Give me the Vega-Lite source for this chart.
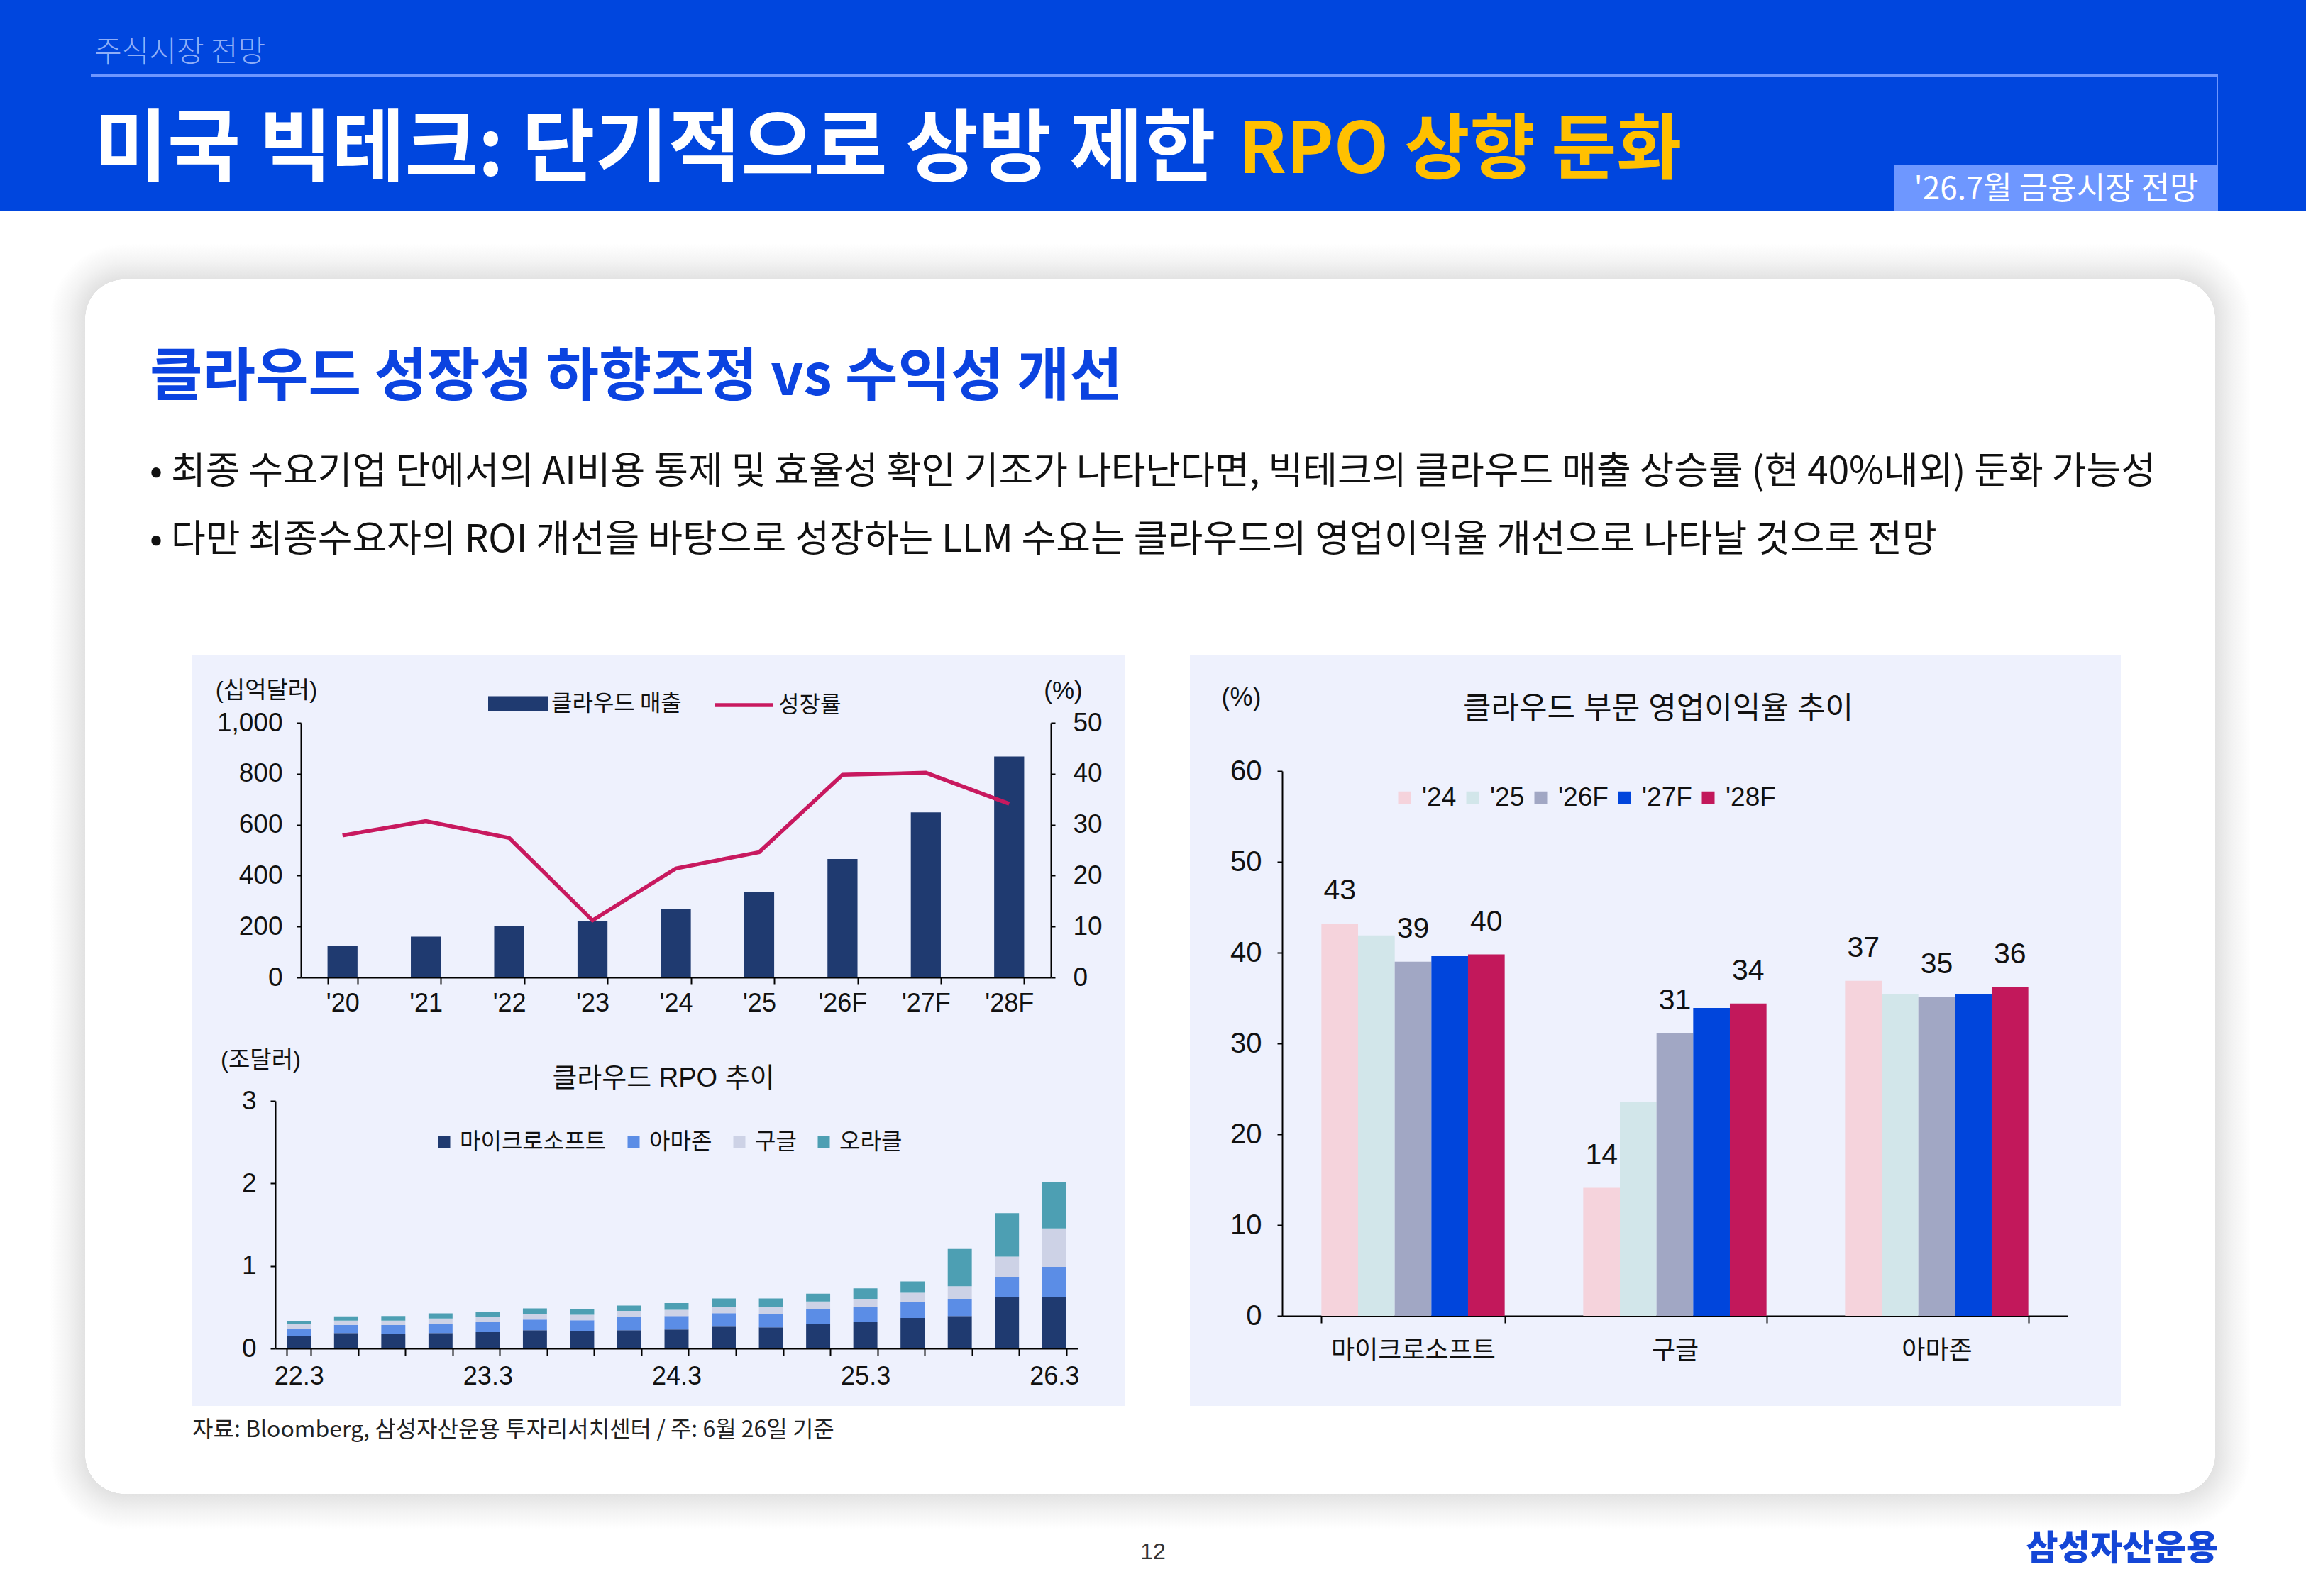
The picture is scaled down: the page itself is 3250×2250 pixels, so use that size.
{
  "$schema": "https://vega.github.io/schema/vega-lite/v6.json",
  "padding": 0,
  "background": "#ffffff",
  "spacing": 0,
  "resolve": {"scale": {"color": "independent", "stroke": "independent"}, "legend": {"color": "independent", "stroke": "independent"}},
  "config": {
    "view": {"stroke": null},
    "concat": {"spacing": 0},
    "axis": {"domainColor": "#000000", "domainWidth": 2, "tickColor": "#000000", "tickWidth": 2, "grid": false, "labelColor": "#111111", "labelFont": "Liberation Sans Narrow, Arial Narrow, Liberation Sans, Noto Sans CJK KR", "titleFont": "Liberation Sans Narrow, Arial Narrow, Liberation Sans, Noto Sans CJK KR", "titleFontWeight": "normal", "titleColor": "#111111", "labelFontSize": 37, "titleFontSize": 33, "labelOverlap": false, "labelLimit": 600},
    "legend": {"labelFont": "Liberation Sans Narrow, Arial Narrow, Liberation Sans, Noto Sans CJK KR", "labelColor": "#111111", "padding": 0, "offset": 0, "labelLimit": 600, "gridAlign": "each"},
    "title": {"font": "Noto Sans CJK KR", "fontWeight": "normal"}
  },
  "vconcat": [
    {"width": 3250, "height": 104, "data": {"values": []}, "mark": "rect", "encoding": {},
     "view": {"fill": "#0046DE", "stroke": null},
     "title": {"text": "주식시장 전망", "anchor": "start", "frame": "group", "orient": "top", "offset": -96.2, "dx": 133, "font": "Noto Sans CJK KR", "fontSize": 42, "fontWeight": 300, "color": "#8FAEF8"}},
    {"hconcat": [
      {"width": 128, "height": 4, "data": {"values": []}, "mark": "rect", "encoding": {}, "view": {"fill": "#0046DE", "stroke": null}},
      {"width": 2998, "height": 4, "data": {"values": []}, "mark": "rect", "encoding": {}, "view": {"fill": "#6D96FF", "stroke": null}},
      {"width": 124, "height": 4, "data": {"values": []}, "mark": "rect", "encoding": {}, "view": {"fill": "#0046DE", "stroke": null}}
    ]},
    {"hconcat": [
      {"width": 1740, "height": 189, "data": {"values": []}, "mark": "rect", "encoding": {},
       "view": {"fill": "#0046DE", "stroke": null},
       "title": {"text": "미국 빅테크: 단기적으로 상방 제한", "anchor": "start", "frame": "group", "orient": "top", "offset": -163.4, "dx": 133, "font": "Noto Sans CJK KR", "fontSize": 112, "fontWeight": 700, "color": "#ffffff"}},
      {"width": 930, "height": 189, "data": {"values": []}, "mark": "rect", "encoding": {},
       "view": {"fill": "#0046DE", "stroke": null},
       "title": {"text": "RPO 상향 둔화", "anchor": "start", "frame": "group", "orient": "top", "offset": -156.5, "dx": 5, "font": "Noto Sans CJK KR", "fontSize": 100, "fontWeight": 700, "color": "#FFC000"}},
      {"vconcat": [
        {"hconcat": [
          {"width": 454, "height": 124, "data": {"values": []}, "mark": "rect", "encoding": {}, "view": {"fill": "#0046DE", "stroke": null}},
          {"width": 2, "height": 124, "data": {"values": []}, "mark": "rect", "encoding": {}, "view": {"fill": "#6D96FF", "stroke": null}}
        ]},
        {"width": 456, "height": 65, "data": {"values": []}, "mark": "rect", "encoding": {},
         "view": {"fill": "#6E97FF", "stroke": null},
         "title": {"text": "'26.7월 금융시장 전망", "anchor": "middle", "frame": "group", "orient": "top", "offset": -57.8, "font": "Noto Sans CJK KR", "fontSize": 44, "color": "#ffffff"}}
      ]},
      {"width": 124, "height": 189, "data": {"values": []}, "mark": "rect", "encoding": {}, "view": {"fill": "#0046DE", "stroke": null}}
    ]},
    {"width": 1, "height": 47, "data": {"values": []}, "mark": "rect", "encoding": {}},
    {"hconcat": [
      {"width": 70, "height": 1, "data": {"values": []}, "mark": "rect", "encoding": {}},
      {"width": 105, "height": 105, "data": {"values": [{}]},
       "mark": {"type": "rect", "color": {"gradient": "radial", "x1": 1, "y1": 1, "r1": 0, "x2": 1, "y2": 1, "r2": 1, "stops": [{"offset": 0, "color": "#ffffff"}, {"offset": 0.52, "color": "#ffffff"}, {"offset": 0.524, "color": "#E2E2E2"}, {"offset": 0.76, "color": "#F3F3F3"}, {"offset": 1, "color": "#ffffff"}]}}, "encoding": {}},
      {"vconcat": [
        {"width": 2892, "height": 50, "data": {"values": [{}]},
         "mark": {"type": "rect", "color": {"gradient": "linear", "x1": 0, "y1": 0, "x2": 0, "y2": 1, "stops": [{"offset": 0, "color": "#ffffff"}, {"offset": 0.5, "color": "#F3F3F3"}, {"offset": 1, "color": "#E2E2E2"}]}}, "encoding": {}},
        {"width": 2892, "height": 55, "data": {"values": []}, "mark": "rect", "encoding": {}}
      ]},
      {"width": 105, "height": 105, "data": {"values": [{}]},
       "mark": {"type": "rect", "color": {"gradient": "radial", "x1": 0, "y1": 1, "r1": 0, "x2": 0, "y2": 1, "r2": 1, "stops": [{"offset": 0, "color": "#ffffff"}, {"offset": 0.52, "color": "#ffffff"}, {"offset": 0.524, "color": "#E2E2E2"}, {"offset": 0.76, "color": "#F3F3F3"}, {"offset": 1, "color": "#ffffff"}]}}, "encoding": {}}
    ]},
    {"hconcat": [
      {"width": 70, "height": 1, "data": {"values": []}, "mark": "rect", "encoding": {}},
      {"width": 50, "height": 1602, "data": {"values": [{}]},
       "mark": {"type": "rect", "color": {"gradient": "linear", "x1": 0, "y1": 0, "x2": 1, "y2": 0, "stops": [{"offset": 0, "color": "#ffffff"}, {"offset": 0.5, "color": "#F3F3F3"}, {"offset": 1, "color": "#E2E2E2"}]}}, "encoding": {}},
      {"vconcat": [
        {"width": 3002, "height": 475, "data": {"values": []}, "mark": "rect", "encoding": {},
         "title": {
           "text": "클라우드 성장성 하향조정 vs 수익성 개선",
           "subtitle": ["• 최종 수요기업 단에서의 AI비용 통제 및 효율성 확인 기조가 나타난다면, 빅테크의 클라우드 매출 상승률 (현 40%내외) 둔화 가능성", "• 다만 최종수요자의 ROI 개선을 바탕으로 성장하는 LLM 수요는 클라우드의 영업이익율 개선으로 나타날 것으로 전망"],
           "anchor": "start", "frame": "group", "orient": "top", "offset": -340.5, "dx": 91,
           "font": "Noto Sans CJK KR", "fontSize": 81, "fontWeight": 700, "color": "#0B43E0",
           "subtitleFont": "Noto Sans CJK KR", "subtitleFontSize": 53, "subtitleColor": "#111111", "subtitleLineHeight": 96, "subtitlePadding": 65.9
         }},
        {"hconcat": [
          {"width": 151, "height": 1, "data": {"values": []}, "mark": "rect", "encoding": {}},
          {"vconcat": [
            {
              "width": 1315, "height": 528,
              "view": {"fill": "#EEF1FD", "stroke": null},
              "data": {"values": [
                {"yr": "'20", "rev": 125, "g": 27.9},
                {"yr": "'21", "rev": 160, "g": 30.7},
                {"yr": "'22", "rev": 202, "g": 27.4},
                {"yr": "'23", "rev": 223, "g": 11.2},
                {"yr": "'24", "rev": 269, "g": 21.4},
                {"yr": "'25", "rev": 335, "g": 24.6},
                {"yr": "'26F", "rev": 465, "g": 39.8},
                {"yr": "'27F", "rev": 648, "g": 40.2},
                {"yr": "'28F", "rev": 868, "g": 34.1}
              ]},
              "layer": [
                {
                  "mark": {"type": "bar"},
                  "encoding": {
                    "x": {"field": "yr", "type": "nominal", "sort": null, "scale": {"range": [153, 1210], "paddingInner": 0.64, "paddingOuter": 0.32},
                          "axis": {"orient": "bottom", "offset": -74, "title": null, "labelAngle": 0, "tickBand": "extent", "tickSize": 9, "labelPadding": 10, "labelFontSize": 36}},
                    "y": {"field": "rev", "type": "quantitative", "scale": {"domain": [0, 1000], "range": [454, 95], "nice": false},
                          "axis": {"orient": "left", "offset": -153, "values": [0, 200, 400, 600, 800, 1000], "format": ",d", "tickSize": 6, "labelPadding": 20, "labelFontSize": 37,
                                   "title": "(십억달러)", "titleAngle": 0, "titleX": -49, "titleY": 49, "titleAlign": "center", "titleBaseline": "middle", "titleFontSize": 33}},
                    "color": {"datum": "클라우드 매출", "scale": {"range": ["#1F3A70"]},
                              "legend": {"orient": "none", "legendX": 416, "legendY": 25, "title": null, "symbolType": "M-1,-0.25H1V0.25H-1Z", "symbolSize": 7056, "labelFontSize": 32, "labelOffset": 4, "labelFont": "Noto Sans CJK KR"}}
                  }
                },
                {
                  "mark": {"type": "line", "strokeWidth": 5.5},
                  "encoding": {
                    "x": {"field": "yr", "type": "nominal", "sort": null},
                    "y": {"field": "g", "type": "quantitative", "scale": {"domain": [0, 50], "range": [454, 95], "nice": false},
                          "axis": {"orient": "right", "offset": -105, "values": [0, 10, 20, 30, 40, 50], "tickSize": 6, "labelPadding": 25, "labelFontSize": 37,
                                   "title": "(%)", "titleAngle": 0, "titleX": 17, "titleY": 49, "titleAlign": "center", "titleBaseline": "middle", "titleFontSize": 35}},
                    "stroke": {"datum": "성장률", "scale": {"range": ["#C8195F"]},
                               "legend": {"orient": "none", "legendX": 734, "legendY": 26, "title": null, "symbolType": "stroke", "symbolSize": 6724, "symbolStrokeWidth": 5.5, "labelFontSize": 32, "labelOffset": 4, "labelFont": "Noto Sans CJK KR"}}
                  }
                }
              ],
              "resolve": {"scale": {"y": "independent"}}
            },
            {
              "width": 1315, "height": 530,
              "view": {"fill": "#EEF1FD", "stroke": null},
              "title": {"text": "클라우드 RPO 추이", "anchor": "middle", "frame": "group", "orient": "top", "offset": -87.8, "dx": 6.5, "fontSize": 38, "color": "#111111", "font": "Liberation Sans Narrow, Arial Narrow, Liberation Sans, Noto Sans CJK KR"},
              "data": {"values": [
                {"q": "22.3", "co": "마이크로소프트", "v": 0.154}, {"q": "22.3", "co": "아마존", "v": 0.086}, {"q": "22.3", "co": "구글", "v": 0.055}, {"q": "22.3", "co": "오라클", "v": 0.040},
                {"q": "22.6", "co": "마이크로소프트", "v": 0.188}, {"q": "22.6", "co": "아마존", "v": 0.098}, {"q": "22.6", "co": "구글", "v": 0.052}, {"q": "22.6", "co": "오라클", "v": 0.050},
                {"q": "22.9", "co": "마이크로소프트", "v": 0.178}, {"q": "22.9", "co": "아마존", "v": 0.105}, {"q": "22.9", "co": "구글", "v": 0.055}, {"q": "22.9", "co": "오라클", "v": 0.056},
                {"q": "22.12", "co": "마이크로소프트", "v": 0.188}, {"q": "22.12", "co": "아마존", "v": 0.110}, {"q": "22.12", "co": "구글", "v": 0.065}, {"q": "22.12", "co": "오라클", "v": 0.062},
                {"q": "23.3", "co": "마이크로소프트", "v": 0.197}, {"q": "23.3", "co": "아마존", "v": 0.120}, {"q": "23.3", "co": "구글", "v": 0.065}, {"q": "23.3", "co": "오라클", "v": 0.061},
                {"q": "23.6", "co": "마이크로소프트", "v": 0.222}, {"q": "23.6", "co": "아마존", "v": 0.129}, {"q": "23.6", "co": "구글", "v": 0.064}, {"q": "23.6", "co": "오라클", "v": 0.071},
                {"q": "23.9", "co": "마이크로소프트", "v": 0.206}, {"q": "23.9", "co": "아마존", "v": 0.136}, {"q": "23.9", "co": "구글", "v": 0.067}, {"q": "23.9", "co": "오라클", "v": 0.068},
                {"q": "23.12", "co": "마이크로소프트", "v": 0.222}, {"q": "23.12", "co": "아마존", "v": 0.156}, {"q": "23.12", "co": "구글", "v": 0.077}, {"q": "23.12", "co": "오라클", "v": 0.065},
                {"q": "24.3", "co": "마이크로소프트", "v": 0.231}, {"q": "24.3", "co": "아마존", "v": 0.163}, {"q": "24.3", "co": "구글", "v": 0.074}, {"q": "24.3", "co": "오라클", "v": 0.083},
                {"q": "24.6", "co": "마이크로소프트", "v": 0.265}, {"q": "24.6", "co": "아마존", "v": 0.163}, {"q": "24.6", "co": "구글", "v": 0.077}, {"q": "24.6", "co": "오라클", "v": 0.101},
                {"q": "24.9", "co": "마이크로소프트", "v": 0.255}, {"q": "24.9", "co": "아마존", "v": 0.167}, {"q": "24.9", "co": "구글", "v": 0.086}, {"q": "24.9", "co": "오라클", "v": 0.098},
                {"q": "24.12", "co": "마이크로소프트", "v": 0.298}, {"q": "24.12", "co": "아마존", "v": 0.176}, {"q": "24.12", "co": "구글", "v": 0.095}, {"q": "24.12", "co": "오라클", "v": 0.096},
                {"q": "25.3", "co": "마이크로소프트", "v": 0.317}, {"q": "25.3", "co": "아마존", "v": 0.191}, {"q": "25.3", "co": "구글", "v": 0.089}, {"q": "25.3", "co": "오라클", "v": 0.132},
                {"q": "25.6", "co": "마이크로소프트", "v": 0.369}, {"q": "25.6", "co": "아마존", "v": 0.197}, {"q": "25.6", "co": "구글", "v": 0.108}, {"q": "25.6", "co": "오라클", "v": 0.138},
                {"q": "25.9", "co": "마이크로소프트", "v": 0.394}, {"q": "25.9", "co": "아마존", "v": 0.200}, {"q": "25.9", "co": "구글", "v": 0.160}, {"q": "25.9", "co": "오라클", "v": 0.452},
                {"q": "25.12", "co": "마이크로소프트", "v": 0.628}, {"q": "25.12", "co": "아마존", "v": 0.240}, {"q": "25.12", "co": "구글", "v": 0.246}, {"q": "25.12", "co": "오라클", "v": 0.526},
                {"q": "26.3", "co": "마이크로소프트", "v": 0.618}, {"q": "26.3", "co": "아마존", "v": 0.370}, {"q": "26.3", "co": "구글", "v": 0.467}, {"q": "26.3", "co": "오라클", "v": 0.557}
              ]},
              "transform": [{"window": [{"op": "row_number", "as": "rk"}], "groupby": ["q"]}],
              "mark": {"type": "bar"},
              "encoding": {
                "x": {"field": "q", "type": "ordinal", "sort": null, "scale": {"range": [117, 1248], "paddingInner": 0.49, "paddingOuter": 0.245},
                      "axis": {"orient": "bottom", "offset": -81, "title": null, "labelAngle": 0, "tickBand": "extent", "tickSize": 10, "labelPadding": 12, "labelFontSize": 36,
                               "labelExpr": "slice(datum.label, -2) == '.3' ? datum.label : ''"}},
                "y": {"field": "v", "type": "quantitative", "stack": "zero", "scale": {"domain": [0, 3], "range": [449, 100], "nice": false},
                      "axis": {"orient": "left", "offset": -117, "values": [0, 1, 2, 3], "tickSize": 7, "labelPadding": 20, "labelFontSize": 37,
                               "title": "(조달러)", "titleAngle": 0, "titleX": -21, "titleY": 42, "titleAlign": "center", "titleBaseline": "middle", "titleFontSize": 33}},
                "color": {"field": "co", "type": "nominal",
                          "scale": {"domain": ["마이크로소프트", "아마존", "구글", "오라클"], "range": ["#1F3A70", "#5B8DE6", "#CDD2E6", "#4D9FB3"]},
                          "legend": {"orient": "none", "direction": "horizontal", "legendX": 339, "legendY": 142, "title": null, "symbolType": "square", "symbolSize": 289, "symbolStrokeWidth": 0, "labelFontSize": 32, "labelOffset": 6, "columnPadding": 22, "labelFont": "Noto Sans CJK KR", "gridAlign": "each"}},
                "order": {"field": "rk", "type": "quantitative", "sort": "ascending"}
              }
            }
          ], "resolve": {"scale": {"color": "independent", "stroke": "independent"}, "legend": {"color": "independent", "stroke": "independent"}}},
          {"width": 91, "height": 1, "data": {"values": []}, "mark": "rect", "encoding": {}},
          {
            "width": 1312, "height": 1058,
            "view": {"fill": "#EEF1FD", "stroke": null},
            "title": {"text": "클라우드 부문 영업이익율 추이", "anchor": "middle", "frame": "group", "orient": "top", "offset": -97.7, "dx": 4, "fontSize": 43, "color": "#111111", "font": "Liberation Sans Narrow, Arial Narrow, Liberation Sans, Noto Sans CJK KR"},
            "data": {"values": [
              {"co": "마이크로소프트", "yr": "'24", "v": 43.2}, {"co": "마이크로소프트", "yr": "'25", "v": 41.9}, {"co": "마이크로소프트", "yr": "'26F", "v": 39.0}, {"co": "마이크로소프트", "yr": "'27F", "v": 39.6}, {"co": "마이크로소프트", "yr": "'28F", "v": 39.8},
              {"co": "구글", "yr": "'24", "v": 14.1}, {"co": "구글", "yr": "'25", "v": 23.6}, {"co": "구글", "yr": "'26F", "v": 31.1}, {"co": "구글", "yr": "'27F", "v": 33.9}, {"co": "구글", "yr": "'28F", "v": 34.4},
              {"co": "아마존", "yr": "'24", "v": 36.9}, {"co": "아마존", "yr": "'25", "v": 35.4}, {"co": "아마존", "yr": "'26F", "v": 35.1}, {"co": "아마존", "yr": "'27F", "v": 35.4}, {"co": "아마존", "yr": "'28F", "v": 36.2}
            ]},
            "layer": [
              {
                "mark": {"type": "bar"},
                "encoding": {
                  "x": {"field": "co", "type": "nominal", "sort": ["마이크로소프트", "구글", "아마존"], "scale": {"range": [130, 1237], "paddingInner": 0.3, "paddingOuter": 0.15},
                        "axis": {"orient": "bottom", "offset": -127, "title": null, "labelAngle": 0, "tickBand": "extent", "tickSize": 10, "labelPadding": 22, "labelFontSize": 36}},
                  "xOffset": {"field": "yr", "type": "nominal", "scale": {"domain": ["'24", "'25", "'26F", "'27F", "'28F"], "paddingInner": 0, "paddingOuter": 0}},
                  "y": {"field": "v", "type": "quantitative", "scale": {"domain": [0, 60], "range": [931, 163], "nice": false},
                        "axis": {"orient": "left", "offset": -130, "values": [0, 10, 20, 30, 40, 50, 60], "tickSize": 7, "labelPadding": 22, "labelFontSize": 40,
                                 "title": "(%)", "titleAngle": 0, "titleX": -58, "titleY": 59, "titleAlign": "center", "titleBaseline": "middle", "titleFontSize": 36}},
                  "color": {"field": "yr", "type": "nominal",
                            "scale": {"domain": ["'24", "'25", "'26F", "'27F", "'28F"], "range": ["#F5D3DC", "#D2E6EA", "#A1A7C4", "#0045DC", "#C2185B"]},
                            "legend": {"orient": "none", "direction": "horizontal", "legendX": 284, "legendY": 182, "title": null, "symbolType": "square", "symbolSize": 324, "symbolStrokeWidth": 0, "labelFontSize": 37, "labelOffset": 6, "columnPadding": 4, "gridAlign": "each"}}
                }
              },
              {
                "transform": [{"filter": {"field": "yr", "oneOf": ["'24", "'26F", "'28F"]}}],
                "mark": {"type": "text", "baseline": "middle", "dy": -46, "fontSize": 41, "font": "Liberation Sans Narrow, Arial Narrow, Liberation Sans, Noto Sans CJK KR", "color": "#111111"},
                "encoding": {
                  "x": {"field": "co", "type": "nominal", "sort": ["마이크로소프트", "구글", "아마존"]},
                  "xOffset": {"field": "yr", "type": "nominal"},
                  "y": {"field": "v", "type": "quantitative"},
                  "text": {"field": "v", "type": "quantitative", "format": ".0f"}
                }
              }
            ]
          }
        ], "resolve": {"scale": {"color": "independent", "stroke": "independent"}, "legend": {"color": "independent", "stroke": "independent"}}},
        {"hconcat": [
          {"width": 151, "height": 1, "data": {"values": []}, "mark": "rect", "encoding": {}},
          {"width": 1400, "height": 69, "data": {"values": []}, "mark": "rect", "encoding": {},
           "title": {"text": "자료: Bloomberg, 삼성자산운용 투자리서치센터 / 주: 6월 26일 기준", "anchor": "start", "frame": "group", "orient": "top", "offset": -51.4, "fontSize": 32, "color": "#222222", "font": "Noto Sans CJK KR"}}
        ]}
      ], "resolve": {"scale": {"color": "independent", "stroke": "independent"}, "legend": {"color": "independent", "stroke": "independent"}}},
      {"width": 50, "height": 1602, "data": {"values": [{}]},
       "mark": {"type": "rect", "color": {"gradient": "linear", "x1": 0, "y1": 0, "x2": 1, "y2": 0, "stops": [{"offset": 0, "color": "#E2E2E2"}, {"offset": 0.5, "color": "#F3F3F3"}, {"offset": 1, "color": "#ffffff"}]}}, "encoding": {}}
    ], "resolve": {"scale": {"color": "independent", "stroke": "independent"}, "legend": {"color": "independent", "stroke": "independent"}}},
    {"hconcat": [
      {"width": 70, "height": 1, "data": {"values": []}, "mark": "rect", "encoding": {}},
      {"width": 105, "height": 105, "data": {"values": [{}]},
       "mark": {"type": "rect", "color": {"gradient": "radial", "x1": 1, "y1": 0, "r1": 0, "x2": 1, "y2": 0, "r2": 1, "stops": [{"offset": 0, "color": "#ffffff"}, {"offset": 0.52, "color": "#ffffff"}, {"offset": 0.524, "color": "#E2E2E2"}, {"offset": 0.76, "color": "#F3F3F3"}, {"offset": 1, "color": "#ffffff"}]}}, "encoding": {}},
      {"vconcat": [
        {"width": 2892, "height": 55, "data": {"values": []}, "mark": "rect", "encoding": {}},
        {"width": 2892, "height": 50, "data": {"values": [{}]},
         "mark": {"type": "rect", "color": {"gradient": "linear", "x1": 0, "y1": 0, "x2": 0, "y2": 1, "stops": [{"offset": 0, "color": "#E2E2E2"}, {"offset": 0.5, "color": "#F3F3F3"}, {"offset": 1, "color": "#ffffff"}]}}, "encoding": {}}
      ]},
      {"width": 105, "height": 105, "data": {"values": [{}]},
       "mark": {"type": "rect", "color": {"gradient": "radial", "x1": 0, "y1": 0, "r1": 0, "x2": 0, "y2": 0, "r2": 1, "stops": [{"offset": 0, "color": "#ffffff"}, {"offset": 0.52, "color": "#ffffff"}, {"offset": 0.524, "color": "#E2E2E2"}, {"offset": 0.76, "color": "#F3F3F3"}, {"offset": 1, "color": "#ffffff"}]}}, "encoding": {}}
    ]},
    {"hconcat": [
      {"width": 1560, "height": 1, "data": {"values": []}, "mark": "rect", "encoding": {}},
      {"width": 130, "height": 94, "data": {"values": []}, "mark": "rect", "encoding": {},
       "title": {"text": "12", "anchor": "middle", "frame": "group", "orient": "top", "offset": -49.2, "fontSize": 32, "color": "#333333", "font": "Liberation Sans Narrow, Arial Narrow, Liberation Sans, Noto Sans CJK KR"}},
      {"width": 1130, "height": 1, "data": {"values": []}, "mark": "rect", "encoding": {}},
      {"width": 306, "height": 94, "data": {"values": []}, "mark": "rect", "encoding": {},
       "title": {"text": "삼성자산운용", "anchor": "end", "frame": "group", "orient": "top", "offset": -53.2, "fontSize": 49, "fontWeight": 900, "color": "#1446D6", "font": "Noto Sans CJK KR"}}
    ]}
  ]
}
